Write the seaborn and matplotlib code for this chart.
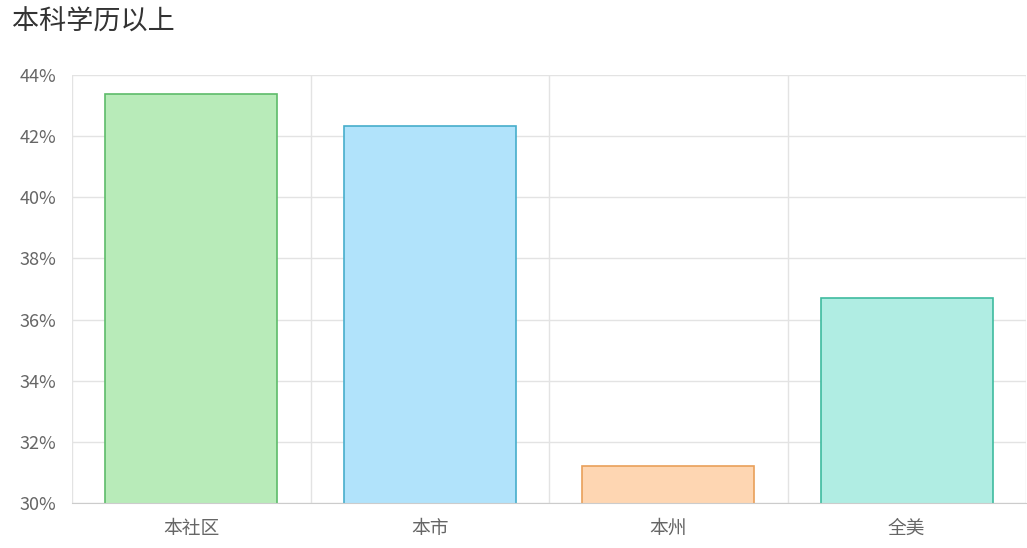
import matplotlib.pyplot as plt
import matplotlib.ticker as mticker
import seaborn as sns
import pandas as pd

categories = ['本社区', '本市', '本州', '全美']
values = [43.38, 42.33, 31.21, 36.71]
fills = ['#b8ebb9', '#b1e3fb', '#fed6b2', '#b0ede3']
edges = ['#5dbb6a', '#47aecb', '#e9a05a', '#3fbb9f']
y_ticks = [30, 32, 34, 36, 38, 40, 42, 44]

sns.set_style('white')
plt.rcParams['font.family'] = ['Noto Sans CJK SC', 'DejaVu Sans']

df = pd.DataFrame({'cat': categories, 'val': values})

fig = plt.figure(figsize=(10.27, 5.48), dpi=100)
ax = fig.add_axes([72 / 1027, 45 / 548, 954 / 1027, 428 / 548])

sns.barplot(data=df, x='cat', y='val', hue='cat', palette=fills, saturation=1,
            width=0.72, legend=False, ax=ax, zorder=3)
for patch, ec in zip(ax.patches, edges):
    patch.set_edgecolor(ec)
    patch.set_linewidth(1.2)

ax.set_ylim(30, 44)
ax.set_xlim(-0.5, 3.5)
ax.set_yticks(y_ticks)
ax.yaxis.set_major_formatter(mticker.FuncFormatter(lambda v, p: f'{v:.0f}%'))
ax.set_xticks(range(len(categories)))
ax.set_xticks([-0.5, 0.5, 1.5, 2.5, 3.5], minor=True)

ax.grid(axis='y', color='#e3e3e3', linewidth=1, zorder=0)
ax.grid(axis='x', which='minor', color='#e3e3e3', linewidth=1, zorder=0)
ax.tick_params(axis='x', which='minor', length=15, color='#e3e3e3', width=1)
ax.tick_params(axis='x', which='major', length=0, pad=11, labelsize=13.5, labelcolor='#666666')
ax.tick_params(axis='y', length=0, pad=11, labelsize=13, labelcolor='#666666')

for side in ['top', 'right', 'left']:
    ax.spines[side].set_visible(False)
ax.spines['bottom'].set_color('#cccccc')
ax.spines['bottom'].set_zorder(4)
ax.set_xlabel('')
ax.set_ylabel('')

fig.text(12 / 1027, 1 - 22 / 548, '本科学历以上', fontsize=19.5, color='#333333',
         ha='left', va='center')

fig.savefig('out.png', dpi=100)
